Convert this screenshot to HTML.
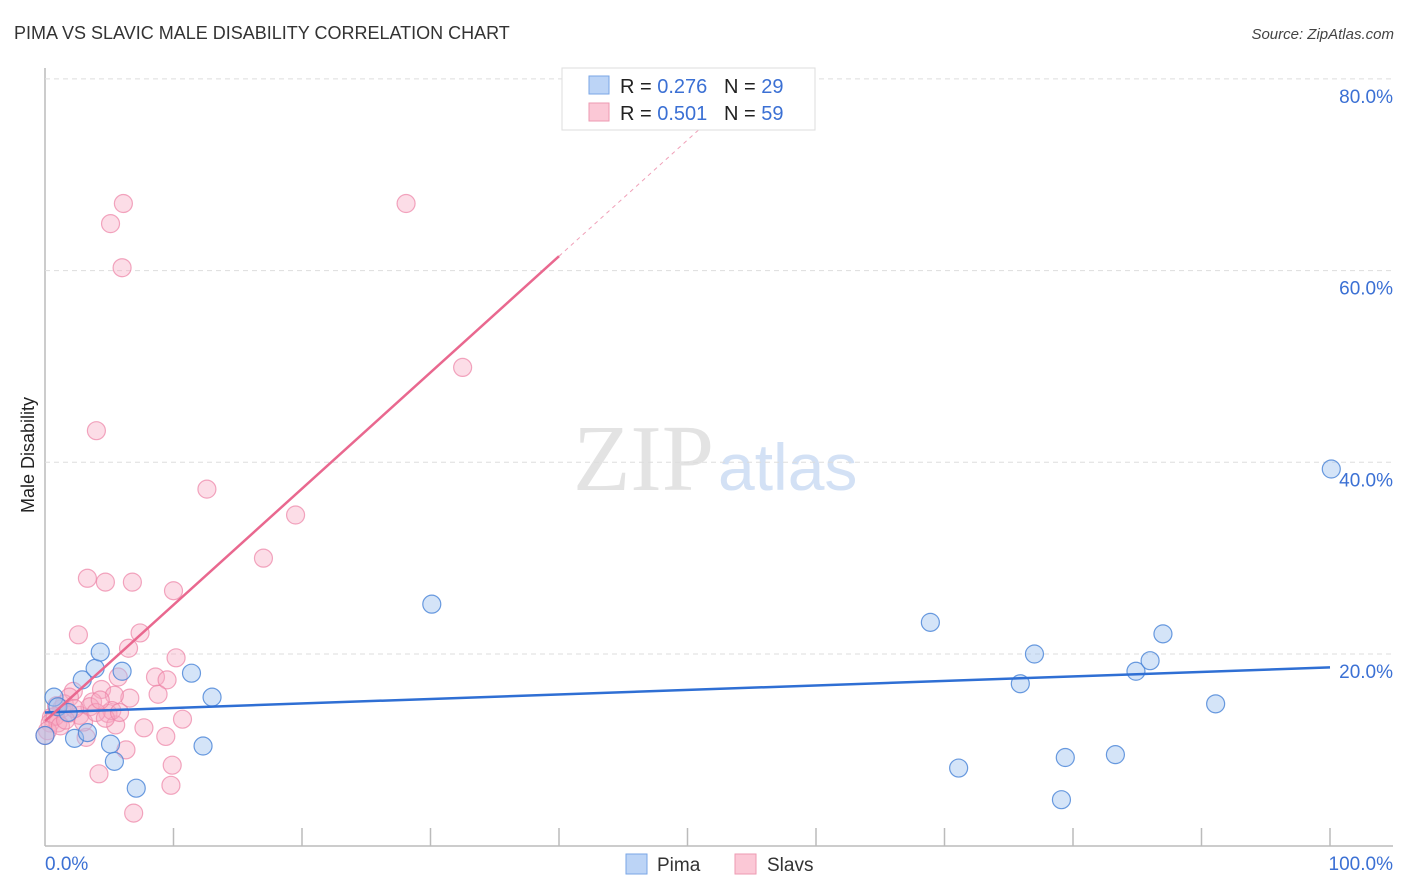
<!DOCTYPE html>
<html><head><meta charset="utf-8"><style>
body{margin:0;background:#fff;font-family:"Liberation Sans",sans-serif;}
svg{display:block}
</style></head><body>
<svg id="chart" width="1406" height="892">
<text x="14" y="39" font-size="18" fill="#333">PIMA VS SLAVIC MALE DISABILITY CORRELATION CHART</text>
<text x="1394" y="39" font-size="15" fill="#444" font-style="italic" text-anchor="end">Source: ZipAtlas.com</text>
<text x="714" y="490" font-size="94" fill="#e3e3e3" text-anchor="end" font-family="Liberation Serif,serif">ZIP</text>
<text x="718" y="490" font-size="66" fill="#d3e1f5">atlas</text>
<text transform="translate(34,455) rotate(-90)" font-size="18" fill="#222" text-anchor="middle">Male Disability</text>
<g id="grid"></g><g id="marks"></g>
<g>
<rect x="562" y="68" width="253" height="62" fill="#fff" stroke="#ddd"/>
<rect x="589" y="76" width="20" height="18" fill="#bcd4f6" stroke="#7aa6e6"/>
<rect x="589" y="103" width="20" height="18" fill="#fbc8d6" stroke="#ee9ab2"/>
<text x="620" y="93" font-size="20" fill="#222">R = <tspan fill="#3b70d4">0.276</tspan>&#160;&#160;&#160;N = <tspan fill="#3b70d4">29</tspan></text>
<text x="620" y="120" font-size="20" fill="#222">R = <tspan fill="#3b70d4">0.501</tspan>&#160;&#160;&#160;N = <tspan fill="#3b70d4">59</tspan></text>
</g>
<g>
<rect x="626" y="854" width="21" height="20" fill="#bcd4f6" stroke="#7aa6e6"/>
<text x="657" y="871" font-size="19" fill="#333">Pima</text>
<rect x="735" y="854" width="21" height="20" fill="#fbc8d6" stroke="#ee9ab2"/>
<text x="767" y="871" font-size="19" fill="#333">Slavs</text>
</g>
</svg>
<script>
const yTicks=[20,40,60,80];
const yTickLabels=["20.0%","40.0%","60.0%","80.0%"];
const xTickLabels=["0.0%","100.0%"];
const pimaX=[0.7,1,2.3,2.9,3.9,4.3,3.3,5.1,5.4,6,7.1,11.4,12.3,13,30.1,68.9,71.1,75.9,77,79.1,79.4,83.3,84.9,86,87,91.1,100.1,0,1.8];
const pimaY=[15.5,14.5,11.2,17.3,18.5,20.2,11.8,10.6,8.8,18.2,6,18,10.4,15.5,25.2,23.3,8.1,16.9,20,4.8,9.2,9.5,18.2,19.3,22.1,14.8,39.3,11.5,13.9];
const slavX=[6.1,5.1,28.1,6,32.5,4,12.6,19.5,17,3.3,4.7,6.8,10,7.4,2.6,6.5,10.2,8.6,9.5,5.7,8.8,6.6,4.4,2.2,5.4,3.7,1.3,1.8,2.7,4.9,10.7,7.7,5.5,0.5,0.4,1,3.2,9.4,9.9,4.2,9.8,6.9,6.3,3.5,1.5,1.9,0.8,0.2,0,1.2,3,5.2,3.97,4.7,2.3,1.6,4.3,5.8,0.9];
const slavY=[67,64.9,67,60.3,49.9,43.3,37.2,34.5,30,27.9,27.5,27.5,26.6,22.2,22,20.6,19.6,17.6,17.3,17.6,15.8,15.4,16.3,16.1,15.7,15,14.3,13.8,13.6,13.8,13.2,12.3,12.6,13.4,12.8,12.8,11.3,11.4,8.4,7.5,6.3,3.4,10,14.5,14.8,15.5,13.5,12,11.5,12.5,12.9,14.1,13.9,13.3,14.3,13.1,15.2,13.9,14.6];
const pimaLine=[13.9,18.6];
const slavLine=[13,61.5];
const X=v=>45+v*12.85, Y=v=>845.7-v*9.585;
const NS="http://www.w3.org/2000/svg";
const grid=document.getElementById('grid'), marks=document.getElementById('marks');
function mk(tag,attrs,parent){const e=document.createElementNS(NS,tag);for(const k in attrs)e.setAttribute(k,attrs[k]);parent.appendChild(e);return e;}
const yaxis=mk('line',{x1:45,y1:68,x2:45,y2:846,stroke:'#bbb','stroke-width':1.5},grid);


const xaxis=mk('line',{x1:45,y1:846,x2:1393,y2:846,stroke:'#bbb','stroke-width':1.5},grid);


for(let i=1;i<=10;i++){const t=mk('line',{x1:45+i*128.5,y1:828,x2:45+i*128.5,y2:846,stroke:'#bbb','stroke-width':1.5},grid);

}
yTicks.forEach((v,i)=>{const g=mk('line',{x1:45,y1:Y(v),x2:1393,y2:Y(v),stroke:'#ddd','stroke-dasharray':'5,4'},grid);


const t=mk('text',{x:1393,y:Y(v)+24,'font-size':19,fill:'#3b70d4','text-anchor':'end'},grid);t.textContent=yTickLabels[i];

});
xTickLabels.forEach((s,i)=>{const t=mk('text',{x:i?1393:45,y:870,'font-size':19,fill:'#3b70d4','text-anchor':i?'end':'start'},grid);t.textContent=s;

});
slavX.forEach((x,i)=>{const c=mk('circle',{cx:X(x),cy:Y(slavY[i]),r:9,fill:'rgba(248,170,195,0.4)',stroke:'rgba(236,130,165,0.7)','stroke-width':1.2},marks);

});
pimaX.forEach((x,i)=>{const c=mk('circle',{cx:X(x),cy:Y(pimaY[i]),r:9,fill:'rgba(160,195,240,0.45)',stroke:'rgba(70,130,215,0.8)','stroke-width':1.2},marks);

});
const pl=mk('line',{x1:X(0),y1:Y(pimaLine[0]),x2:X(100),y2:Y(pimaLine[1]),stroke:'#2f6fd4','stroke-width':2.5},marks);


const sf=v=>slavLine[0]+(slavLine[1]-slavLine[0])*v/40;
const sl=mk('line',{x1:X(0),y1:Y(sf(0)),x2:X(40),y2:Y(sf(40)),stroke:'#e9688f','stroke-width':2.5},marks);


const sd=mk('line',{x1:X(40),y1:Y(sf(40)),x2:X(52),y2:Y(sf(52)),stroke:'#f0a0b8','stroke-width':1,'stroke-dasharray':'4,4'},marks);


</script>
</body></html>
